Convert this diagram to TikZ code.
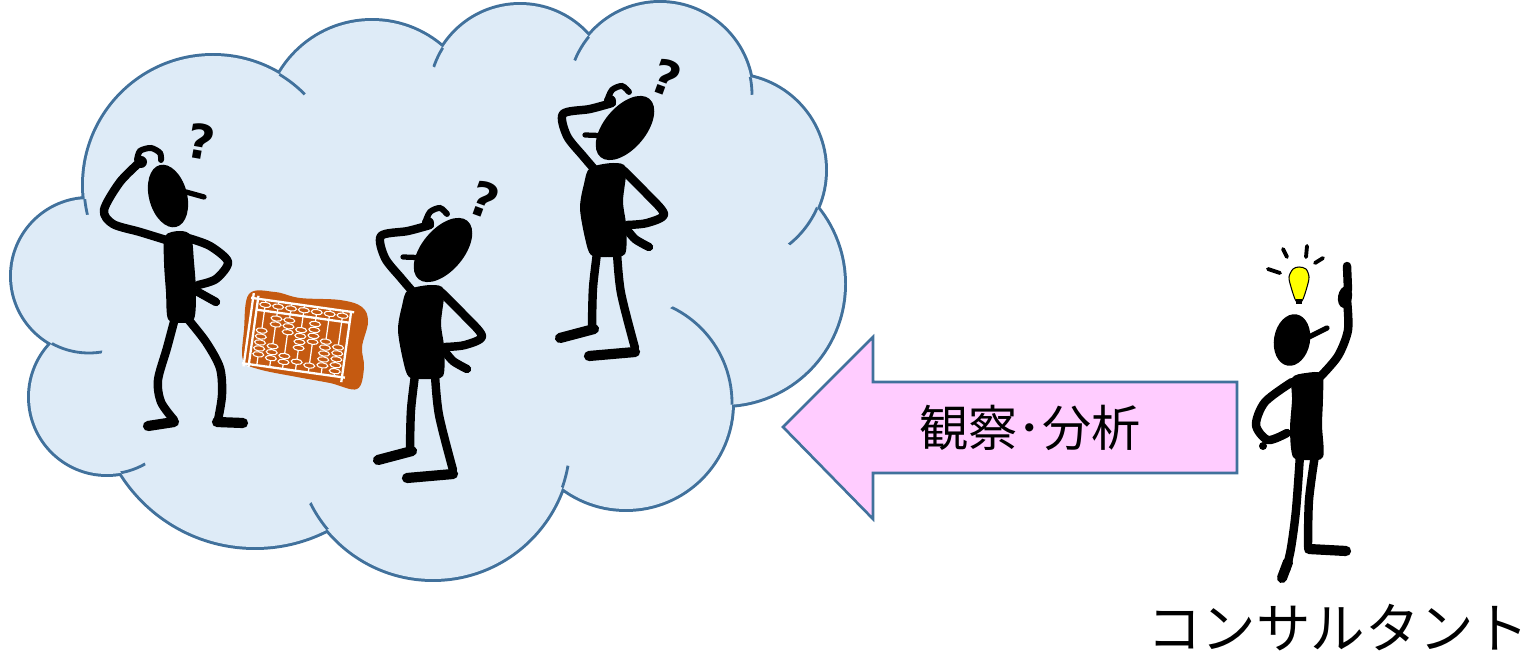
\documentclass[tikz,border=0pt]{standalone}
\usepackage{fontspec}
\usepackage{tikz}
\newfontfamily\jpfont{Noto Sans CJK JP}
\newfontfamily\qfont{DejaVu Sans}
\definecolor{cloudFill}{HTML}{DEEBF7}
\definecolor{cloudLine}{HTML}{41719C}
\definecolor{arrowPink}{HTML}{FFCCFF}
\definecolor{abacoOrange}{HTML}{C55A11}
\definecolor{bulbYellow}{HTML}{FFFF00}

% all puffs of the cloud in one path
\newcommand{\cloudpuffs}{(213,185) circle (129) (372,128) circle (107)
  (520,96) circle (91) (660,95) circle (92) (730,170) circle (95)
  (723,284) circle (121) (626,403) circle (106) (433,442) circle (137)
  (255,389) circle (158) (107,397) circle (77) (89,276) circle (77)}
% short piece of one puff inside its neighbour
\newcommand{\puffarc}[3]{\begin{scope}\clip #2; \clip #3;
  \draw[cloudLine,line width=1.6pt] #1;\end{scope}}

\tikzset{
  limb/.style={line width=4.8pt,line cap=round,line join=round},
  foot/.style={line width=5.8pt,line cap=round},
  brim/.style={line width=3pt,line cap=round},
  ray/.style={line width=2.2pt,line cap=round},
  qmark/.style={font=\qfont\bfseries\fontsize{27}{27}\selectfont,inner sep=0pt},
  thinker/.pic={
    \fill[rotate around={-40:(0,0)}] (0,0) ellipse (21 and 38);
    \draw[brim] (-40,7) -- (-12,8);
    \fill (-15,-27) circle (6);
    \draw[line width=3.4pt,line cap=round] plot[smooth] coordinates {(-18,-27) (-13,-38) (-3,-42) (4,-36)};
    \draw[limb] plot[smooth] coordinates {(-13,-25) (-35,-19) (-62,-14) (-58,8) (-42,28) (-30,42)};
    \fill plot[smooth cycle] coordinates {(-35,40) (-12,35) (1,40) (-2,73) (1,97) (0,126) (-18,129) (-34,127) (-40,110) (-45,80) (-41,56)};
    \draw[limb] plot[smooth] coordinates {(-2,42) (20,64) (39,86) (22,95) (2,97)};
    \draw[limb] plot[smooth] coordinates {(0,99) (10,111) (24,119)};
    \draw[limb] plot[smooth] coordinates {(-28,125) (-32,160) (-33,198)};
    \draw[foot] (-31,201) -- (-65,210);
    \draw[limb] plot[smooth] coordinates {(-8,125) (-4,165) (10,220)};
    \draw[foot] (10,224) -- (-36,228);
    \node[qmark,rotate=-20] (-q) at (41,-50) {?};
  }
}

\begin{document}
\begin{tikzpicture}[x=0.02cm,y=-0.02cm]
  \useasboundingbox (0,0) rectangle (1531,658);

  % cloud: doubled outline first, fill laid over its inner half
  \draw[cloudLine,line width=3.4pt] \cloudpuffs;
  \fill[cloudFill] \cloudpuffs;
  \fill[cloudFill] (95,205) -- (282,80) -- (443,55) -- (586,44) -- (745,84) -- (810,210)
    -- (725,400) -- (562,485) -- (330,519) -- (126,466) -- (60,342) -- cycle;
  \puffarc{(213,185) circle (129)}{(89,276) circle (77)}{(85,197) circle (18)}
  \puffarc{(213,185) circle (129)}{(372,128) circle (107)}{(282,72) circle (32)}
  \puffarc{(520,96) circle (91)}{(372,128) circle (107)}{(443,47) circle (22)}
  \puffarc{(660,95) circle (92)}{(520,96) circle (91)}{(586,36) circle (27)}
  \puffarc{(660,95) circle (92)}{(730,170) circle (95)}{(750,77) circle (18)}
  \puffarc{(730,170) circle (95)}{(723,284) circle (121)}{(817,208) circle (46)}
  \puffarc{(626,403) circle (106)}{(723,284) circle (121)}{(732,405) circle (115)}
  \puffarc{(433,442) circle (137)}{(626,403) circle (106)}{(562,493) circle (28)}
  \puffarc{(433,442) circle (137)}{(255,389) circle (158)}{(330,527) circle (31)}
  \puffarc{(107,397) circle (77)}{(255,389) circle (158)}{(123,473) circle (24)}
  \puffarc{(89,276) circle (77)}{(107,397) circle (77)}{(53,342) circle (50)}

  % first thinker
  \fill[rotate around={15:(168,196)}] (168,196) ellipse (19 and 32);
  \draw[brim] (186,192) -- (204,197);
  \fill (141,162) circle (6);
  \draw[line width=3.4pt,line cap=round] plot[smooth] coordinates {(137,160) (140,151) (151,148) (160,153) (161,160)};
  \draw[limb] plot[smooth] coordinates {(140,162) (120,182) (104,210) (113,224) (140,232) (166,240)};
  \fill plot[smooth cycle] coordinates {(165,236) (180,231) (191,236) (194,262) (196,292) (194,319) (181,323) (168,319) (166,292) (164,262)};
  \draw[limb] plot[smooth] coordinates {(188,238) (210,246) (228,262) (216,279) (198,285)};
  \draw[limb] (198,292) -- (216,302);
  \draw[limb] plot[smooth] coordinates {(175,318) (167,348) (158,380) (161,402) (174,420)};
  \draw[foot] (174,422) -- (148,426);
  \draw[limb] plot[smooth] coordinates {(187,318) (206,342) (220,368) (222,395) (218,420)};
  \draw[foot] (217,422) -- (243,423);
  \node[qmark,rotate=-10] (q1) at (201,142) {?};

  % abacus
  \fill[abacoOrange] plot[smooth cycle,tension=0.6] coordinates {(249,294) (275,292) (300,298) (340,300) (362,307) (368,322) (362,347) (364,368) (357,389) (330,383) (297,377) (258,369) (243,360) (244,330)};
  \begin{scope}[shift={(300,338)},rotate=-8,white]
    \draw[line width=1.3pt] (-52,-38) -- (-52,36) (-47,-36) -- (-47,36) (47,-34) -- (47,38);
    \draw[line width=1.3pt] (-54,-33) -- (50,-33) (-47,-22) -- (47,-22) (-54,33) -- (50,33);
    \foreach \x/\ys in {-39/{-2,4,10,16,22},-26/{-16,-10,12,18,24},-13/{-16,-10,-4,20,26},
        0/{-8,-2,4,10,24},13/{-16,-10,-4,2,26},26/{0,6,12,18,24},39/{4,10,16,22,28}} {
      \draw[line width=0.7pt] (\x,-33) -- (\x,33);
      \filldraw[fill=abacoOrange,line width=0.6pt] (\x,-28) ellipse (5.5 and 2.6);
      \foreach \y in \ys
        \filldraw[fill=abacoOrange,line width=0.6pt] (\x,\y) ellipse (5.5 and 2.6);
    }
  \end{scope}

  % second and third thinker
  \pic (fig2) at (443,250) {thinker};
  \pic (fig3) at (625,128) {thinker};

  % arrow
  \filldraw[fill=arrowPink,draw=cloudLine,line width=1.5pt,line join=miter]
    (783,427) -- (873,337) -- (873,382) -- (1237,382) -- (1237,473) -- (873,473) -- (873,519) -- cycle;
  \node[font=\jpfont\fontsize{28}{28}\selectfont] (obs) at (1030,428) {観察･分析};

  % consultant with the idea
  \draw[ray] (1268,269) -- (1280,273);
  \draw[ray] (1283,249) -- (1287,257);
  \draw[ray] (1307,246) -- (1306,257);
  \draw[ray] (1323,258) -- (1315,263);
  \filldraw[fill=bulbYellow,draw=black,line width=0.6pt] plot[smooth cycle] coordinates {(1296,301) (1291,287) (1289,277) (1293,269) (1299,267) (1306,269) (1309,277) (1307,287) (1302,301)};
  \fill (1296,299) rectangle (1302,304);
  \fill[rotate around={-10:(1292,340)}] (1292,340) ellipse (18 and 26);
  \draw[brim] (1309,337) -- (1327,328);
  \draw[limb] (1347,266) -- (1348,290);
  \fill[rotate around={-10:(1345,297)}] (1345,297) ellipse (7 and 11);
  \draw[limb] plot[smooth] coordinates {(1347,300) (1348,330) (1338,356) (1320,377)};
  \fill plot[smooth cycle] coordinates {(1292,378) (1306,373) (1322,374) (1323,398) (1322,425) (1323,457) (1307,460) (1293,457) (1290,430) (1292,400)};
  \draw[limb] plot[smooth] coordinates {(1292,382) (1265,402) (1256,425) (1268,440) (1287,433)};
  \fill (1263,446) circle (4);
  \draw[limb] plot[smooth] coordinates {(1300,455) (1296,510) (1291,548) (1286,570)};
  \draw[foot] (1288,562) -- (1282,578);
  \draw[limb] plot[smooth] coordinates {(1315,455) (1309,500) (1308,547)};
  \draw[foot] (1309,549) -- (1346,551);
  \node[font=\jpfont\fontsize{31}{31}\selectfont] (consultant) at (1338,628) {コンサルタント};
\end{tikzpicture}
\end{document}
